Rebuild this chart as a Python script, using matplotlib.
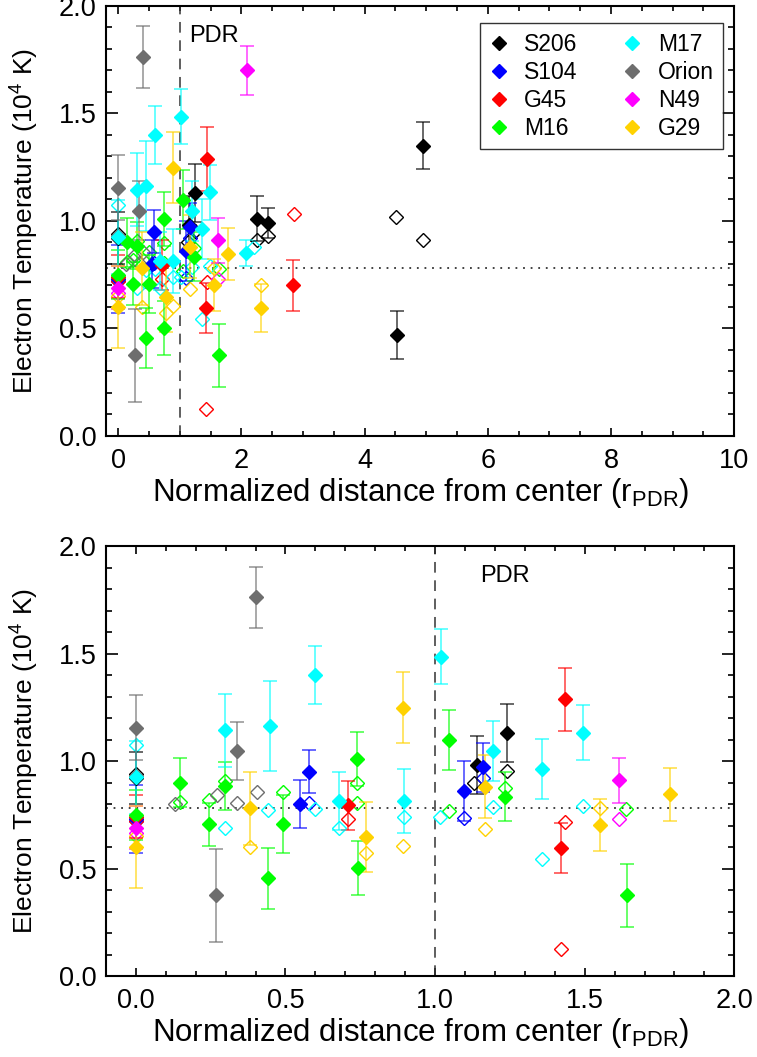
import matplotlib
matplotlib.use("Agg")
import matplotlib.pyplot as plt
from matplotlib.lines import Line2D
from matplotlib.ticker import MultipleLocator, FormatStrFormatter
from matplotlib.colors import to_rgba

plt.rcParams['font.family'] = ['Liberation Sans', 'DejaVu Sans']
plt.rcParams['mathtext.fontset'] = 'custom'
plt.rcParams['mathtext.rm'] = 'Liberation Sans'
plt.rcParams['mathtext.it'] = 'Liberation Sans:italic'
plt.rcParams['mathtext.bf'] = 'Liberation Sans:bold'

# ---- regions ----
regions = ["S206", "S104", "G45", "M16", "M17", "Orion", "N49", "G29"]
colors = {"S206": "#000000", "S104": "#0000FF", "G45": "#FF0000", "M16": "#00FF00",
          "M17": "#00FFFF", "Orion": "#6E6E6E", "N49": "#FF00FF", "G29": "#FFD200"}

# ---- filled points (with 1-sigma errors) ----
s206_x = [0.0, 1.14, 1.24, 2.25, 2.43, 4.52, 4.95]
s206_y = [0.92, 0.98, 1.13, 1.01, 0.99, 0.47, 1.35]
s206_e = [0.12, 0.135, 0.135, 0.105, 0.07, 0.11, 0.11]

s104_x = [0.0, 0.547, 0.579, 1.097, 1.16]
s104_y = [0.73, 0.80, 0.95, 0.86, 0.97]
s104_e = [0.16, 0.11, 0.10, 0.14, 0.115]

g45_x = [0.0, 0.709, 1.422, 1.433, 2.84]
g45_y = [0.74, 0.794, 0.594, 1.288, 0.70]
g45_e = [0.10, 0.115, 0.116, 0.147, 0.12]

m16_x = [0.0, 0.148, 0.245, 0.298, 0.443, 0.491, 0.739, 0.743, 1.045, 1.232, 1.641]
m16_y = [0.75, 0.90, 0.707, 0.884, 0.454, 0.705, 1.01, 0.503, 1.098, 0.834, 0.375]
m16_e = [0.115, 0.115, 0.10, 0.11, 0.14, 0.135, 0.125, 0.125, 0.138, 0.115, 0.145]

m17_x = [0.0, 0.299, 0.449, 0.597, 0.678, 0.895, 1.02, 1.195, 1.356, 1.494, 2.08]
m17_y = [0.925, 1.144, 1.163, 1.40, 0.814, 0.814, 1.485, 1.047, 0.963, 1.132, 0.85]
m17_e = [0.17, 0.17, 0.21, 0.135, 0.135, 0.15, 0.127, 0.14, 0.14, 0.128, 0.06]

orion_x = [0.0, 0.268, 0.339, 0.403]
orion_y = [1.155, 0.375, 1.048, 1.761]
orion_e = [0.15, 0.215, 0.135, 0.143]

n49_x = [0.0, 1.616, 2.09]
n49_y = [0.69, 0.91, 1.70]
n49_e = [0.10, 0.105, 0.115]

g29_x = [0.0, 0.382, 0.77, 0.893, 1.168, 1.552, 1.786, 2.32]
g29_y = [0.60, 0.78, 0.645, 1.248, 0.88, 0.702, 0.845, 0.595]
g29_e = [0.19, 0.17, 0.163, 0.165, 0.147, 0.12, 0.122, 0.11]

# ---- open points (alternative estimate, no errors) ----
s206_ox = [0.0, 1.13, 1.24, 2.25, 2.43, 4.51, 4.94]
s206_oy = [0.94, 0.90, 0.955, 0.91, 0.93, 1.02, 0.91]
s104_ox = [0.0, 0.579, 1.097, 1.16]
s104_oy = [0.72, 0.805, 0.733, 0.92]
g45_ox = [0.0, 0.709, 1.435, 1.422, 2.85]
g45_oy = [0.72, 0.729, 0.715, 0.124, 1.03]
m16_ox = [0.0, 0.148, 0.245, 0.298, 0.491, 0.739, 0.739, 1.047, 1.232, 1.639]
m16_oy = [0.74, 0.81, 0.818, 0.908, 0.856, 0.896, 0.806, 0.767, 0.874, 0.778]
m17_ox = [0.0, 0.298, 0.443, 0.597, 0.678, 0.895, 1.018, 1.195, 1.356, 1.494, 2.2]
m17_oy = [1.075, 0.687, 0.772, 0.775, 0.69, 0.741, 0.738, 0.785, 0.544, 0.79, 0.88]
orion_ox = [0.0, 0.131, 0.27, 0.339, 0.406]
orion_oy = [0.93, 0.80, 0.84, 0.806, 0.857]
n49_ox = [0.0, 1.616]
n49_oy = [0.665, 0.73]
g29_ox = [0.0, 0.382, 0.77, 0.893, 1.168, 1.552, 2.32]
g29_oy = [0.65, 0.599, 0.574, 0.605, 0.682, 0.78, 0.70]

filled = {"S206": (s206_x, s206_y, s206_e), "S104": (s104_x, s104_y, s104_e),
          "G45": (g45_x, g45_y, g45_e), "M16": (m16_x, m16_y, m16_e),
          "M17": (m17_x, m17_y, m17_e), "Orion": (orion_x, orion_y, orion_e),
          "N49": (n49_x, n49_y, n49_e), "G29": (g29_x, g29_y, g29_e)}
opened = {"S206": (s206_ox, s206_oy), "S104": (s104_ox, s104_oy),
          "G45": (g45_ox, g45_oy), "M16": (m16_ox, m16_oy),
          "M17": (m17_ox, m17_oy), "Orion": (orion_ox, orion_oy),
          "N49": (n49_ox, n49_oy), "G29": (g29_ox, g29_oy)}

mean_te = 0.78
pdr_radius = 1.0

fig = plt.figure(figsize=(7.57, 10.57), dpi=100)
ax_top = fig.add_axes([0.140, 0.5875, 0.830, 0.4071])
ax_bot = fig.add_axes([0.140, 0.0766, 0.830, 0.4068])


def draw_panel(ax, xlim, xmajor, xminor, xfmt):
    for r in regions:
        c = colors[r]
        ox, oy = opened[r]
        ax.plot(ox, oy, 'D', mfc='none', mec=c, ms=6.8, mew=1.0, zorder=3)
    for r in regions:
        c = colors[r]
        x, y, e = filled[r]
        ax.errorbar(x, y, yerr=e, fmt='D', color=c, ms=7.2, mec=c,
                    ecolor=to_rgba(c, 0.75), elinewidth=1.1, capsize=4.7,
                    capthick=1.1, zorder=4)
    ax.axvline(pdr_radius, color='#333333', lw=1.1, ls=(0, (7, 5)), zorder=2)
    ax.axhline(mean_te, color='#333333', lw=1.3, ls=(0, (1, 3.2)), zorder=2)
    ax.text(1.15, 1.86, "PDR", fontsize=17, ha='left', va='center')

    ax.set_xlim(*xlim)
    ax.set_ylim(0.0, 2.0)
    ax.xaxis.set_major_locator(MultipleLocator(xmajor))
    ax.xaxis.set_minor_locator(MultipleLocator(xminor))
    ax.xaxis.set_major_formatter(FormatStrFormatter(xfmt))
    ax.yaxis.set_major_locator(MultipleLocator(0.5))
    ax.yaxis.set_minor_locator(MultipleLocator(0.1))
    ax.yaxis.set_major_formatter(FormatStrFormatter('%.1f'))
    ax.tick_params(axis='both', which='both', direction='in', top=True,
                   right=True, width=1.2, labelsize=19.5)
    ax.tick_params(axis='x', which='major', length=6, pad=8.5)
    ax.tick_params(axis='x', which='minor', length=3.5)
    ax.tick_params(axis='y', which='major', length=8.5, pad=7)
    ax.tick_params(axis='y', which='minor', length=4.5)
    for s in ax.spines.values():
        s.set_linewidth(1.5)
    ax.set_xlabel(r"Normalized distance from center (r$_{\mathrm{PDR}}$)",
                  fontsize=22.5)
    ax.set_ylabel(r"Electron Temperature (10$^4$ K)", fontsize=19)
    ax.xaxis.set_label_coords(0.5, -0.092)
    ax.yaxis.set_label_coords(-0.104, 0.5)


draw_panel(ax_top, (-0.2, 10.0), 2, 0.5, '%d')
draw_panel(ax_bot, (-0.1, 2.0), 0.5, 0.1, '%.1f')

handles = [Line2D([], [], marker='D', ls='none', color=colors[r], ms=7.2)
           for r in regions]
leg = ax_top.legend(handles, regions, loc='upper right',
                    bbox_to_anchor=(0.9825, 0.96), ncol=2, fontsize=16.5,
                    frameon=True, fancybox=False, edgecolor='black',
                    handlelength=0.8, handletextpad=0.7, columnspacing=2.0,
                    labelspacing=0.22, borderpad=0.42, borderaxespad=0.0)
leg.get_frame().set_linewidth(1.0)

fig.savefig("out.png", dpi=100)
